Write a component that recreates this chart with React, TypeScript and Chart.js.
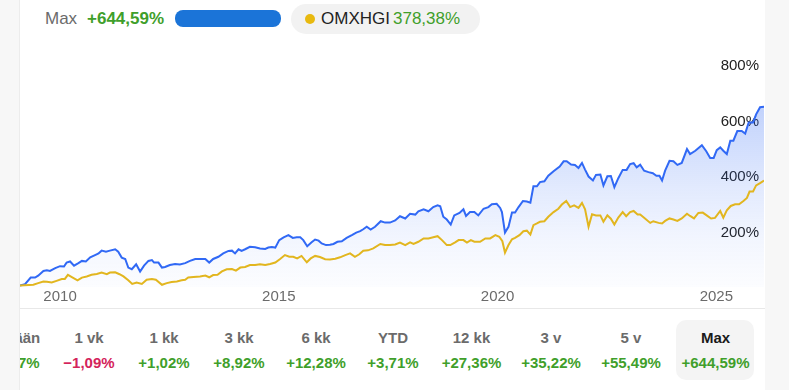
import React, { useEffect, useRef } from "react";
import { Chart, registerables } from "chart.js";

Chart.register(...registerables);

// ---- Data ----
const fundDates = [
  2009.085, 2009.2, 2009.33, 2009.43, 2009.5, 2009.62, 2009.7, 2009.77, 2009.89, 2010.0,
  2010.09, 2010.15, 2010.23, 2010.32, 2010.42, 2010.5, 2010.59, 2010.69, 2010.8, 2010.88,
  2010.95, 2011.05, 2011.14, 2011.26, 2011.33, 2011.41, 2011.49, 2011.56, 2011.64, 2011.74,
  2011.83, 2011.92, 2012.02, 2012.1, 2012.15, 2012.25, 2012.33, 2012.4, 2012.51, 2012.63,
  2012.74, 2012.86, 2012.97, 2013.09, 2013.2, 2013.32, 2013.41, 2013.5, 2013.62, 2013.73,
  2013.85, 2013.93, 2014.0, 2014.08, 2014.15, 2014.23, 2014.34, 2014.46, 2014.57, 2014.69,
  2014.76, 2014.84, 2014.92, 2015.01, 2015.11, 2015.22, 2015.32, 2015.41, 2015.49, 2015.56,
  2015.65, 2015.75, 2015.83, 2015.91, 2015.98, 2016.08, 2016.17, 2016.25, 2016.34, 2016.44,
  2016.55, 2016.67, 2016.77, 2016.86, 2016.93, 2017.01, 2017.1, 2017.2, 2017.33, 2017.43,
  2017.54, 2017.66, 2017.77, 2017.89, 2018.0, 2018.12, 2018.19, 2018.31, 2018.42, 2018.53,
  2018.63, 2018.69, 2018.76, 2018.84, 2018.93, 2019.01, 2019.13, 2019.22, 2019.28, 2019.37,
  2019.47, 2019.56, 2019.68, 2019.79, 2019.87, 2019.98, 2020.06, 2020.1, 2020.17, 2020.25,
  2020.33, 2020.4, 2020.48, 2020.58, 2020.67, 2020.75, 2020.82, 2020.9, 2020.97, 2021.07,
  2021.16, 2021.28, 2021.42, 2021.51, 2021.58, 2021.68, 2021.77, 2021.85, 2021.93, 2022.0,
  2022.08, 2022.18, 2022.25, 2022.35, 2022.42, 2022.51, 2022.59, 2022.67, 2022.76, 2022.86,
  2022.95, 2023.03, 2023.11, 2023.18, 2023.26, 2023.35, 2023.45, 2023.55, 2023.63, 2023.7,
  2023.76, 2023.83, 2023.93, 2024.02, 2024.11, 2024.21, 2024.33, 2024.4, 2024.52, 2024.67,
  2024.77, 2024.86, 2024.94, 2025.01, 2025.09, 2025.16, 2025.24, 2025.32, 2025.39, 2025.48,
  2025.58, 2025.66, 2025.74, 2025.84, 2025.91, 2026.0, 2026.09,
];
const fundValues = [
  0, 5, 29, 29, 36, 53, 55, 53, 63, 70,
  69, 83, 87, 72, 81, 89, 87, 102, 110, 116,
  126, 122, 126, 131, 122, 101, 96, 65, 59, 77,
  51, 72, 89, 92, 83, 83, 65, 67, 74, 78,
  76, 81, 89, 96, 96, 96, 83, 96, 104, 116,
  125, 126, 116, 131, 125, 131, 140, 138, 134, 132,
  137, 139, 137, 164, 174, 182, 172, 174, 174, 164,
  142, 156, 166, 162, 152, 146, 147, 150, 158, 160,
  172, 182, 191, 196, 203, 212, 202, 212, 232, 227,
  227, 235, 250, 242, 259, 256, 268, 275, 268, 283,
  289, 286, 248, 238, 220, 253, 262, 275, 251, 265,
  265, 253, 277, 283, 293, 295, 280, 265, 191, 212,
  263, 263, 283, 305, 303, 299, 358, 358, 373, 376,
  396, 412, 429, 448, 448, 436, 435, 424, 442, 418,
  393, 379, 399, 400, 361, 394, 395, 355, 387, 417,
  417, 438, 441, 426, 436, 414, 409, 405, 396, 396,
  379, 414, 450, 448, 435, 442, 492, 474, 486, 506,
  484, 460, 460, 488, 498, 486, 474, 522, 522, 557,
  557, 548, 588, 588, 617, 643, 644.59,
];
const indexDates = [
  2009.085, 2009.39, 2009.5, 2009.62, 2009.7, 2009.81, 2009.92, 2010.04, 2010.11, 2010.18,
  2010.27, 2010.4, 2010.5, 2010.61, 2010.72, 2010.84, 2010.95, 2011.07, 2011.14, 2011.26,
  2011.36, 2011.45, 2011.56, 2011.65, 2011.75, 2011.87, 2011.98, 2012.1, 2012.19, 2012.33,
  2012.44, 2012.55, 2012.67, 2012.78, 2012.86, 2012.93, 2013.05, 2013.2, 2013.32, 2013.41,
  2013.5, 2013.6, 2013.7, 2013.81, 2013.93, 2014.02, 2014.12, 2014.23, 2014.34, 2014.46,
  2014.57, 2014.69, 2014.8, 2014.92, 2015.03, 2015.14, 2015.24, 2015.33, 2015.42, 2015.52,
  2015.64, 2015.73, 2015.83, 2015.94, 2016.06, 2016.17, 2016.29, 2016.4, 2016.52, 2016.63,
  2016.74, 2016.84, 2016.93, 2017.04, 2017.16, 2017.32, 2017.43, 2017.54, 2017.66, 2017.77,
  2017.89, 2018.0, 2018.08, 2018.19, 2018.31, 2018.42, 2018.53, 2018.63, 2018.73, 2018.84,
  2018.92, 2019.03, 2019.11, 2019.22, 2019.3, 2019.39, 2019.47, 2019.6, 2019.72, 2019.83,
  2019.95, 2020.04, 2020.11, 2020.17, 2020.25, 2020.33, 2020.4, 2020.5, 2020.59, 2020.67,
  2020.75, 2020.82, 2020.9, 2020.97, 2021.07, 2021.16, 2021.28, 2021.39, 2021.47, 2021.57,
  2021.66, 2021.75, 2021.85, 2021.93, 2022.0, 2022.08, 2022.16, 2022.25, 2022.35, 2022.42,
  2022.51, 2022.59, 2022.67, 2022.76, 2022.86, 2022.94, 2023.03, 2023.11, 2023.2, 2023.26,
  2023.37, 2023.49, 2023.56, 2023.68, 2023.76, 2023.83, 2023.93, 2024.02, 2024.11, 2024.21,
  2024.33, 2024.4, 2024.49, 2024.59, 2024.69, 2024.78, 2024.88, 2024.97, 2025.09, 2025.16,
  2025.24, 2025.33, 2025.43, 2025.52, 2025.62, 2025.7, 2025.76, 2025.84, 2025.91, 2026.0,
  2026.09,
];
const indexValues = [
  0, 3, 9, 15, 14, 11, 17, 24, 24, 39,
  31, 19, 29, 33, 39, 42, 47, 41, 47, 48,
  41, 33, 19, 6, 11, 6, 21, 24, 21, 3,
  9, 13, 15, 19, 21, 29, 31, 33, 36, 30,
  38, 39, 51, 59, 60, 54, 65, 67, 74, 74,
  77, 74, 78, 83, 96, 110, 104, 104, 98, 107,
  84, 98, 107, 103, 95, 94, 97, 102, 110, 116,
  104, 113, 126, 127, 134, 150, 146, 146, 148, 155,
  146, 156, 150, 158, 170, 170, 174, 178, 164, 146,
  146, 156, 164, 164, 155, 164, 158, 158, 170, 170,
  182, 176, 160, 119, 146, 167, 172, 182, 196, 198,
  184, 218, 224, 230, 232, 248, 265, 277, 292, 305,
  283, 289, 280, 298, 275, 212, 257, 253, 253, 230,
  253, 241, 220, 245, 265, 250, 265, 269, 256, 256,
  242, 226, 232, 226, 224, 233, 242, 238, 233, 242,
  259, 251, 242, 262, 263, 253, 242, 244, 269, 245,
  271, 287, 293, 293, 305, 316, 339, 339, 361, 369,
  378.38,
];
const xTickYears = [2010, 2015, 2020, 2025];
const yTickValues = [200, 400, 600, 800];

const headerPeriod = "Max";
const headerFundReturn = "+644,59%";
const indexName = "OMXHGI";
const indexReturn = "378,38%";

const periodLabels = ["Tänään", "1 vk", "1 kk", "3 kk", "6 kk", "YTD", "12 kk", "3 v", "5 v", "Max"];
const periodValues = ["+0,37%", "−1,09%", "+1,02%", "+8,92%", "+12,28%", "+3,71%", "+27,36%", "+35,22%", "+55,49%", "+644,59%"];

// ---- Styling ----
const FONT = "'Liberation Sans', Arial, Helvetica, sans-serif";
const BLUE = "#3169f5";
const YELLOW = "#e2b61f";
const GREEN = "#3f9f2b";
const RED = "#d4235b";
const columnCenters = [14, 89, 164, 239, 316, 393, 471.5, 551, 631, 715.5];

export default function App() {
  const canvasRef = useRef<HTMLCanvasElement | null>(null);

  useEffect(() => {
    const canvas = canvasRef.current;
    if (!canvas) return;
    const chart = new Chart(canvas, {
      type: "line",
      data: {
        datasets: [
          {
            label: indexName,
            data: indexDates.map((d, i) => ({ x: d, y: indexValues[i] })),
            borderColor: YELLOW,
            borderWidth: 2,
            pointRadius: 0,
            tension: 0,
            fill: false,
          },
          {
            label: "Rahasto",
            data: fundDates.map((d, i) => ({ x: d, y: fundValues[i] })),
            borderColor: BLUE,
            borderWidth: 2,
            pointRadius: 0,
            tension: 0,
            fill: "start",
            backgroundColor: (ctx: any) => {
              const ch = ctx.chart;
              const area = ch.chartArea;
              if (!area) return "rgba(49,105,245,0.1)";
              const top = ch.scales.y.getPixelForValue(650);
              const g = ch.ctx.createLinearGradient(0, top, 0, area.bottom);
              g.addColorStop(0, "rgba(49,105,245,0.30)");
              g.addColorStop(0.45, "rgba(49,105,245,0.14)");
              g.addColorStop(0.75, "rgba(49,105,245,0.06)");
              g.addColorStop(1, "rgba(49,105,245,0.015)");
              return g;
            },
          },
        ],
      },
      options: {
        animation: false,
        responsive: false,
        maintainAspectRatio: false,
        layout: { padding: { top: 20, left: 0, right: 0, bottom: 0 } },
        plugins: { legend: { display: false }, tooltip: { enabled: false } },
        scales: {
          x: {
            type: "linear",
            min: 2009.085,
            max: 2026.09,
            afterBuildTicks: (s: any) => {
              s.ticks = xTickYears.map((v) => ({ value: v }));
            },
            grid: { display: false, drawTicks: false },
            border: { display: false },
            ticks: {
              padding: 1,
              color: "#6b6b6b",
              font: { size: 15, family: FONT },
              maxRotation: 0,
              autoSkip: false,
              callback: (v: any) => String(v),
            },
          },
          y: {
            type: "linear",
            position: "right",
            min: -5,
            max: 885,
            afterBuildTicks: (s: any) => {
              s.ticks = yTickValues.map((v) => ({ value: v }));
            },
            afterFit: (s: any) => {
              s.width = 10;
            },
            grid: { display: false, drawTicks: false },
            border: { display: false },
            ticks: {
              mirror: true,
              padding: -5,
              labelOffset: 2.5,
              color: "#222222",
              font: { size: 15, family: FONT },
              callback: (v: any) => v + "%",
            },
          },
        },
      },
    });
    return () => chart.destroy();
  }, []);

  const abs = (s: React.CSSProperties): React.CSSProperties => ({ position: "absolute", ...s });

  return (
    <div style={abs({ left: 0, top: 0, width: 805, height: 390, background: "#ffffff", fontFamily: FONT, overflow: "hidden" })}>
      {/* side strips */}
      <div style={abs({ left: 0, top: 0, width: 19, height: 390, background: "#f7f7f7", borderRight: "1px solid #ececec" })} />
      <div style={abs({ left: 765, top: 0, width: 24, height: 390, background: "#f7f7f7" })} />
      {/* panel bottom divider */}
      <div style={abs({ left: 20, top: 308, width: 745, height: 1, background: "#e8e8e8" })} />

      {/* header */}
      <div style={abs({ left: 45, top: 9, fontSize: 17, lineHeight: "20px", color: "#6b6b6b" })}>{headerPeriod}</div>
      <div style={abs({ left: 87, top: 9, fontSize: 17, lineHeight: "20px", color: GREEN, fontWeight: 700 })}>{headerFundReturn}</div>
      <div style={abs({ left: 175, top: 10, width: 106, height: 17, background: "#1b74d8", borderRadius: 8 })} />
      <div style={abs({ left: 291, top: 4, width: 189, height: 30, background: "#f2f2f2", borderRadius: 15 })} />
      <div style={abs({ left: 305, top: 14, width: 10, height: 10, background: "#e8b90f", borderRadius: 5 })} />
      <div style={abs({ left: 321, top: 9, fontSize: 17, lineHeight: "20px", color: "#222222" })}>{indexName}</div>
      <div style={abs({ left: 393, top: 9, fontSize: 17, lineHeight: "20px", color: GREEN })}>{indexReturn}</div>

      {/* chart */}
      <canvas ref={canvasRef} width={754} height={287} style={abs({ left: 20, top: 20, width: 754, height: 287 })} />

      {/* period row */}
      <div style={abs({ left: 20, top: 310, width: 745, height: 80, overflow: "hidden" })}>
        <div style={abs({ left: 676 - 20, top: 10, width: 78, height: 60, background: "#f4f4f4", borderRadius: 10 })} />
        {periodLabels.map((lab, i) => {
          const val = periodValues[i];
          const neg = val.startsWith("−") || val.startsWith("-");
          const cx = columnCenters[i] - 20;
          return (
            <React.Fragment key={lab}>
              <div style={abs({ left: cx - 50, width: 100, top: 18, textAlign: "center", fontSize: 15, lineHeight: "20px", fontWeight: 700, color: lab === "Max" ? "#1a1a1a" : "#6b6b6b" })}>{lab}</div>
              <div style={abs({ left: cx - 50, width: 100, top: 43, textAlign: "center", fontSize: 15, lineHeight: "20px", fontWeight: 700, color: neg ? RED : GREEN })}>{val}</div>
            </React.Fragment>
          );
        })}
      </div>
    </div>
  );
}
